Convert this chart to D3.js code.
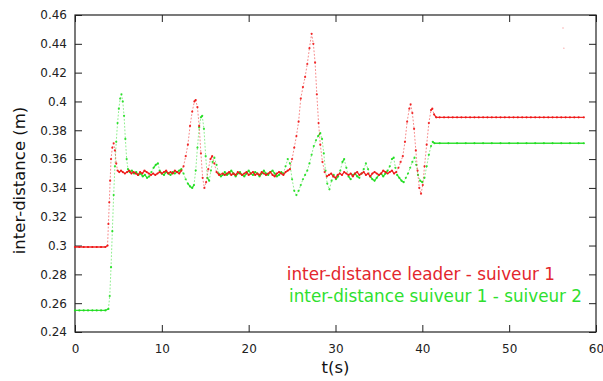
<!DOCTYPE html>
<html>
<head>
<meta charset="utf-8">
<script src="https://cdn.jsdelivr.net/npm/d3@7"></script>
<style>
  body { margin: 0; background: #fff; }
  svg { display: block; }
  text { font-family: "DejaVu Sans", sans-serif; }
</style>
</head>
<body>
<svg id="chart" width="603" height="381"></svg>
<script>
// ticks
const xTicks = [0, 10, 20, 30, 40, 50, 60];
const yTicks = [0.24, 0.26, 0.28, 0.3, 0.32, 0.34, 0.36, 0.38, 0.4, 0.42, 0.44, 0.46];

// inter-distance leader - suiveur 1 : [t (s), distance (m)]
const redSeries = [
  [0, 0.299], [0.5, 0.299], [1, 0.299], [1.5, 0.299], [2, 0.299], [2.5, 0.299], [3, 0.299], [3.5, 0.299],
  [3.75, 0.300], [3.85, 0.315], [3.95, 0.330], [4.05, 0.345], [4.15, 0.360], [4.3, 0.368], [4.45, 0.371],
  [4.6, 0.366], [4.75, 0.357], [4.9, 0.352], [5.1, 0.351], [5.3, 0.352], [5.5, 0.351], [5.75, 0.350],
  [6, 0.351], [6.25, 0.352], [6.5, 0.350], [6.75, 0.351], [7, 0.350], [7.25, 0.349], [7.5, 0.351],
  [7.75, 0.350], [8, 0.352], [8.25, 0.351], [8.5, 0.350], [8.75, 0.349], [9, 0.350], [9.25, 0.349],
  [9.5, 0.350], [9.75, 0.351], [10, 0.350], [10.25, 0.351], [10.5, 0.352], [10.75, 0.350], [11, 0.351],
  [11.25, 0.350], [11.5, 0.352], [11.75, 0.351], [12, 0.350], [12.25, 0.352], [12.5, 0.355], [12.75, 0.362],
  [13, 0.370], [13.25, 0.383], [13.5, 0.393], [13.75, 0.400], [13.9, 0.401], [14.1, 0.396], [14.3, 0.383],
  [14.5, 0.364], [14.7, 0.347], [14.9, 0.340], [15.1, 0.344], [15.35, 0.353], [15.6, 0.360], [15.8, 0.362],
  [16.05, 0.357], [16.3, 0.351], [16.6, 0.349], [17, 0.350], [17.25, 0.349], [17.5, 0.350], [17.75, 0.351],
  [18, 0.349], [18.25, 0.350], [18.5, 0.349], [18.75, 0.351], [19, 0.350], [19.25, 0.349], [19.5, 0.350],
  [19.75, 0.351], [20, 0.349], [20.25, 0.350], [20.5, 0.351], [20.75, 0.349], [21, 0.350], [21.25, 0.349],
  [21.5, 0.351], [21.75, 0.350], [22, 0.349], [22.25, 0.350], [22.5, 0.351], [22.75, 0.349], [23, 0.348],
  [23.25, 0.350], [23.5, 0.351], [23.75, 0.350], [24, 0.349], [24.25, 0.351], [24.5, 0.352], [24.75, 0.353],
  [25, 0.360], [25.25, 0.368], [25.5, 0.376], [25.75, 0.386], [26, 0.402], [26.25, 0.410], [26.5, 0.417],
  [26.75, 0.426], [27, 0.437], [27.25, 0.447], [27.45, 0.440], [27.65, 0.427], [27.85, 0.405], [28.05, 0.385],
  [28.25, 0.370], [28.5, 0.358], [28.75, 0.351], [29, 0.348], [29.25, 0.349], [29.5, 0.350], [29.75, 0.348],
  [30, 0.347], [30.25, 0.349], [30.5, 0.350], [30.75, 0.349], [31, 0.351], [31.25, 0.350], [31.5, 0.349],
  [31.75, 0.350], [32, 0.348], [32.25, 0.350], [32.5, 0.351], [32.75, 0.349], [33, 0.350], [33.25, 0.351],
  [33.5, 0.349], [33.75, 0.350], [34, 0.348], [34.25, 0.350], [34.5, 0.351], [34.75, 0.350], [35, 0.349],
  [35.25, 0.350], [35.5, 0.352], [35.75, 0.351], [36, 0.350], [36.25, 0.351], [36.5, 0.352], [36.75, 0.350],
  [37, 0.351], [37.25, 0.354], [37.5, 0.358], [37.75, 0.362], [38, 0.372], [38.25, 0.386], [38.5, 0.395],
  [38.65, 0.398], [38.85, 0.392], [39.05, 0.381], [39.25, 0.366], [39.45, 0.352], [39.65, 0.340], [39.85, 0.336],
  [40.05, 0.342], [40.25, 0.355], [40.5, 0.370], [40.75, 0.385], [41, 0.394], [41.15, 0.395], [41.35, 0.391],
  [41.6, 0.389], [42, 0.389], [42.5, 0.389], [43, 0.389], [43.5, 0.389], [44, 0.389], [44.5, 0.389],
  [45, 0.389], [45.5, 0.389], [46, 0.389], [46.5, 0.389], [47, 0.389], [47.5, 0.389], [48, 0.389],
  [48.5, 0.389], [49, 0.389], [49.5, 0.389], [50, 0.389], [50.5, 0.389], [51, 0.389], [51.5, 0.389],
  [52, 0.389], [52.5, 0.389], [53, 0.389], [53.5, 0.389], [54, 0.389], [54.5, 0.389], [55, 0.389],
  [55.5, 0.389], [56, 0.389], [56.5, 0.389], [57, 0.389], [57.5, 0.389], [58, 0.389], [58.6, 0.389]
];

// inter-distance suiveur 1 - suiveur 2
const greenSeries = [
  [0, 0.255], [0.5, 0.255], [1, 0.255], [1.5, 0.255], [2, 0.255], [2.5, 0.255], [3, 0.255], [3.5, 0.255],
  [3.85, 0.256], [4, 0.265], [4.15, 0.285], [4.3, 0.310], [4.45, 0.335], [4.6, 0.355], [4.75, 0.372],
  [4.9, 0.385], [5.05, 0.395], [5.2, 0.402], [5.35, 0.405], [5.5, 0.400], [5.65, 0.390], [5.8, 0.374],
  [5.95, 0.360], [6.1, 0.353], [6.3, 0.351], [6.55, 0.352], [6.8, 0.350], [7.05, 0.351], [7.3, 0.349],
  [7.55, 0.350], [7.8, 0.348], [8.05, 0.349], [8.3, 0.347], [8.55, 0.348], [8.8, 0.351], [9.05, 0.354],
  [9.3, 0.356], [9.55, 0.357], [9.75, 0.352], [10, 0.350], [10.25, 0.349], [10.5, 0.351], [10.75, 0.350],
  [11, 0.349], [11.25, 0.351], [11.5, 0.350], [11.75, 0.351], [12, 0.352], [12.25, 0.353], [12.5, 0.350],
  [12.75, 0.346], [13, 0.343], [13.25, 0.341], [13.5, 0.340], [13.7, 0.342], [13.9, 0.352], [14.1, 0.368],
  [14.3, 0.382], [14.5, 0.389], [14.65, 0.390], [14.85, 0.381], [15.05, 0.362], [15.25, 0.347], [15.45, 0.345],
  [15.65, 0.352], [15.85, 0.358], [16.05, 0.361], [16.3, 0.356], [16.55, 0.350], [16.8, 0.348], [17, 0.349],
  [17.25, 0.351], [17.5, 0.349], [17.75, 0.350], [18, 0.352], [18.25, 0.350], [18.5, 0.348], [18.75, 0.350],
  [19, 0.351], [19.25, 0.349], [19.5, 0.348], [19.75, 0.350], [20, 0.352], [20.25, 0.350], [20.5, 0.349],
  [20.75, 0.351], [21, 0.350], [21.25, 0.348], [21.5, 0.350], [21.75, 0.352], [22, 0.350], [22.25, 0.349],
  [22.5, 0.351], [22.75, 0.352], [23, 0.350], [23.25, 0.348], [23.5, 0.349], [23.75, 0.351], [24, 0.350],
  [24.25, 0.355], [24.5, 0.360], [24.75, 0.357], [25, 0.346], [25.25, 0.338], [25.5, 0.335], [25.75, 0.338],
  [26, 0.342], [26.25, 0.346], [26.5, 0.349], [26.75, 0.352], [27, 0.357], [27.25, 0.363], [27.5, 0.369],
  [27.75, 0.373], [28, 0.376], [28.25, 0.378], [28.45, 0.374], [28.65, 0.364], [28.85, 0.352], [29.05, 0.343],
  [29.3, 0.339], [29.55, 0.345], [29.8, 0.349], [30.05, 0.346], [30.3, 0.348], [30.55, 0.352], [30.8, 0.358],
  [31, 0.360], [31.25, 0.354], [31.5, 0.348], [31.75, 0.346], [32, 0.349], [32.25, 0.350], [32.5, 0.348],
  [32.75, 0.347], [33, 0.350], [33.25, 0.353], [33.5, 0.357], [33.75, 0.353], [34, 0.348], [34.25, 0.346],
  [34.5, 0.345], [34.75, 0.347], [35, 0.349], [35.25, 0.350], [35.5, 0.348], [35.75, 0.350], [36, 0.352],
  [36.25, 0.355], [36.5, 0.360], [36.7, 0.361], [36.9, 0.354], [37.1, 0.349], [37.35, 0.347], [37.6, 0.345],
  [37.85, 0.344], [38.1, 0.347], [38.35, 0.350], [38.6, 0.354], [38.85, 0.358], [39.1, 0.361], [39.3, 0.356],
  [39.5, 0.349], [39.75, 0.345], [40, 0.344], [40.25, 0.347], [40.5, 0.355], [40.75, 0.363], [41, 0.369],
  [41.2, 0.372], [41.4, 0.371], [42, 0.371], [43, 0.371], [44, 0.371], [45, 0.371], [46, 0.371],
  [47, 0.371], [48, 0.371], [49, 0.371], [50, 0.371], [51, 0.371], [52, 0.371], [53, 0.371],
  [54, 0.371], [55, 0.371], [56, 0.371], [57, 0.371], [58, 0.371], [58.6, 0.371]
];

// two isolated red samples top right
const strayRed = [[56.2, 0.451], [56.3, 0.437]];

const legendLabels = ["inter-distance leader - suiveur 1", "inter-distance suiveur 1 - suiveur 2"];
const seriesColors = ["#ee1515", "#1fdd1f"];
const textColors = ["#e3262d", "#2ee02e"];

const svg = d3.select("#chart");
const x = d3.scaleLinear().domain([0, 60]).range([75, 596]);
const y = d3.scaleLinear().domain([0.24, 0.46]).range([332, 15]);
const tick = 7;

// axes, ticks pointing inside, mirrored on top and right
const gx = svg.append("g").attr("transform", "translate(0,332)")
  .call(d3.axisBottom(x).tickValues(xTicks).tickSize(-tick).tickPadding(12).tickSizeOuter(0).tickFormat(d3.format("d")));
const gy = svg.append("g").attr("transform", "translate(75,0)")
  .call(d3.axisLeft(y).tickValues(yTicks).tickSize(-tick).tickPadding(8).tickSizeOuter(0).tickFormat(d3.format("~g")));
const gt = svg.append("g").attr("transform", "translate(0,15)")
  .call(d3.axisTop(x).tickValues(xTicks).tickSize(-tick).tickSizeOuter(0).tickFormat(""));
const gr = svg.append("g").attr("transform", "translate(596,0)")
  .call(d3.axisRight(y).tickValues(yTicks).tickSize(-tick).tickSizeOuter(0).tickFormat(""));

[gx, gy, gt, gr].forEach(g => {
  g.select(".domain").remove();
  g.selectAll("line").attr("stroke", "#222");
  g.selectAll("text").attr("fill", "#222").style("font-size", "12px").style("font-family", "DejaVu Sans, sans-serif");
});

svg.append("rect")
  .attr("x", 75).attr("y", 15)
  .attr("width", 596 - 75).attr("height", 332 - 15)
  .attr("fill", "none").attr("stroke", "#222").attr("stroke-width", 1.2);

// series: samples are joined solid where the signal is slow,
// and only by a faint dotted trail where it moves fast (like sparse dots)
const plot = svg.append("g");
[[greenSeries, 1], [redSeries, 0]].forEach(([data, i]) => {
  const segs = d3.pairs(data);
  plot.append("g").selectAll("line")
    .data(segs)
    .join("line")
    .attr("x1", d => x(d[0][0]))
    .attr("y1", d => y(d[0][1]))
    .attr("x2", d => x(d[1][0]))
    .attr("y2", d => y(d[1][1]))
    .attr("stroke", seriesColors[i])
    .attr("stroke-linecap", "round")
    .each(function(d) {
      const steep = Math.abs(y(d[1][1]) - y(d[0][1])) > 4;
      d3.select(this)
        .attr("stroke-width", steep ? 1 : 1.3)
        .attr("stroke-dasharray", steep ? "1 2.5" : null)
        .attr("stroke-opacity", steep ? 0.5 : 0.9);
    });
  plot.append("g").selectAll("circle")
    .data(data)
    .join("circle")
    .attr("cx", d => x(d[0]))
    .attr("cy", d => y(d[1]))
    .attr("r", 1.1)
    .attr("fill", seriesColors[i])
    .attr("fill-opacity", 0.85);
});

plot.append("g").selectAll("circle")
  .data(strayRed)
  .join("circle")
  .attr("cx", d => x(d[0]))
  .attr("cy", d => y(d[1]))
  .attr("r", 0.7)
  .attr("fill", seriesColors[0])
  .attr("fill-opacity", 0.4);

// axis titles
svg.append("text")
  .attr("transform", "translate(25,180.5) rotate(-90)")
  .attr("text-anchor", "middle")
  .attr("fill", "#111")
  .style("font-size", "16.5px")
  .text("inter-distance (m)");

svg.append("text")
  .attr("x", 335.5).attr("y", 373)
  .attr("text-anchor", "middle")
  .attr("fill", "#111")
  .style("font-size", "16.5px")
  .text("t(s)");

// key, right aligned
const keyRight = [555, 582];
const keyBase = [280, 302];
legendLabels.forEach((label, i) => {
  svg.append("text")
    .attr("x", keyRight[i]).attr("y", keyBase[i])
    .attr("text-anchor", "end")
    .attr("fill", textColors[i])
    .style("font-size", "16.8px")
    .text(label);
});
</script>
</body>
</html>
